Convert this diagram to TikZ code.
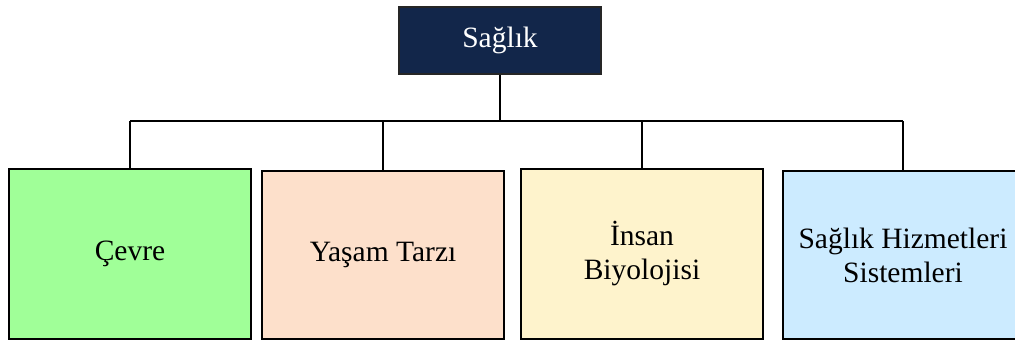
\documentclass[tikz,border=0pt]{standalone}
\usepackage{fontspec}
\setmainfont{Liberation Serif}
\begin{document}
\begin{tikzpicture}[x=1pt,y=-1pt,
  box/.style={draw=black,line width=1.4pt,minimum width=242pt,minimum height=170pt,
    inner sep=0pt,align=center,font=\fontsize{29.5}{34}\selectfont,text=black},
  topbox/.style={draw=black!85,line width=1.6pt,fill=navy,minimum width=202pt,minimum height=67pt,
    inner sep=0pt,font=\fontsize{29.5}{34}\selectfont,text=white},
  conn/.style={draw=black,line width=1.4pt}]
\definecolor{navy}{HTML}{12264A}
\definecolor{cgreen}{HTML}{A0FF98}
\definecolor{cpeach}{HTML}{FDE0CB}
\definecolor{cyellow}{HTML}{FEF3CC}
\definecolor{cblue}{HTML}{CCEBFF}
\useasboundingbox (0,0) rectangle (1015,340);
\clip (0,0) rectangle (1015,340);
\fill[white] (0,0) rectangle (1015,340);

% root
\node[topbox] (top) at (500,40.5) {Sağlık};

% children
\node[box,fill=cgreen]  (c1) at (130,254)   {Çevre};
\node[box,fill=cpeach,minimum height=168pt]  (c2) at (383,255) {Yaşam Tarzı};
\node[box,fill=cyellow] (c3) at (642,254)   {İnsan\\Biyolojisi};
\node[box,fill=cblue,minimum width=240pt,minimum height=168pt] (c4) at (903,255) {Sağlık Hizmetleri\\Sistemleri};

% tree connectors
\coordinate (bus) at (500,121);
\draw[conn] (top.south) -- (bus);
\draw[conn] (c1.north |- bus) -- (c4.north |- bus);
\foreach \n in {c1,c2,c3,c4}
  \draw[conn] (\n.north) -- (\n.north |- bus);
\end{tikzpicture}
\end{document}
